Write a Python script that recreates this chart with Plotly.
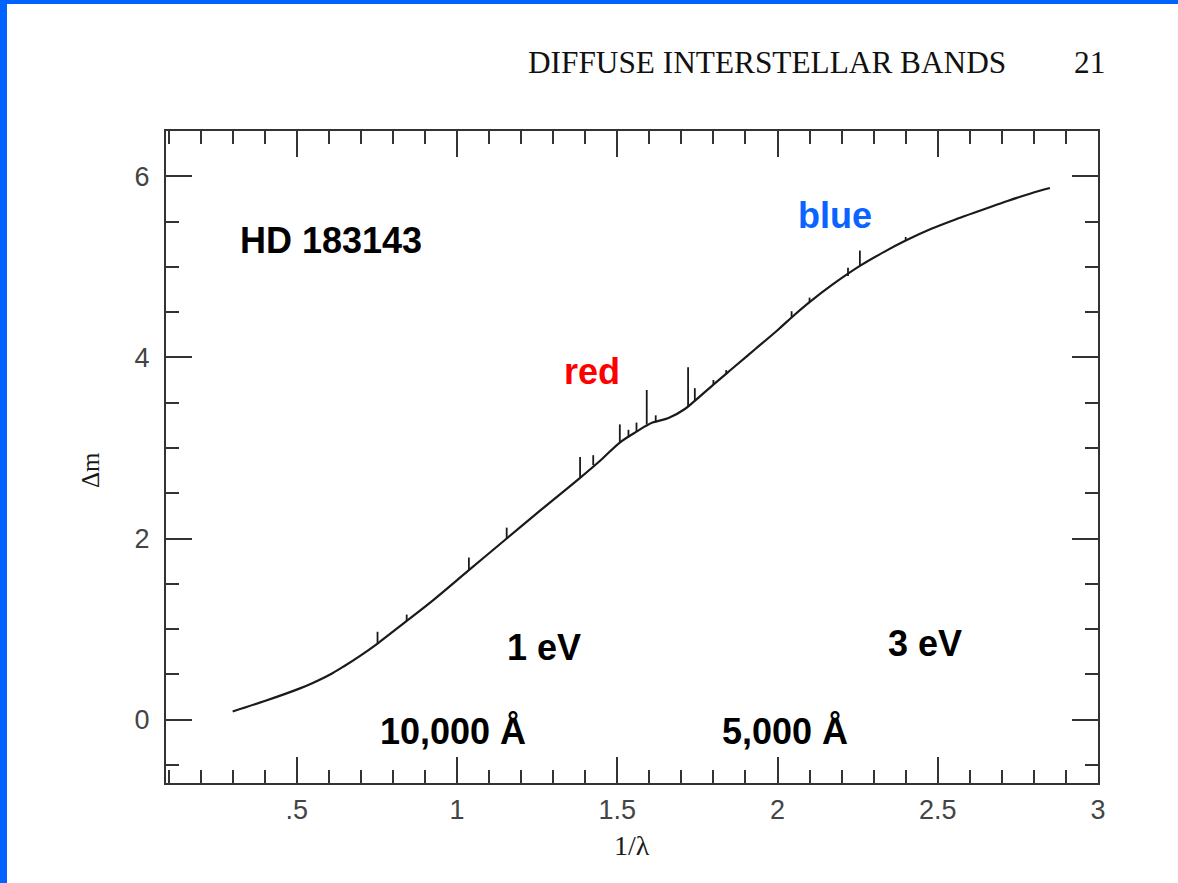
import plotly.graph_objects as go

# Continuum of the extinction curve (1/lambda in um^-1, delta m)
cont_x = [0.30, 0.40, 0.51, 0.55, 0.61, 0.65, 0.70, 0.752, 0.843, 0.926, 1.037, 1.155, 1.26, 1.384,
          1.45, 1.508, 1.56, 1.61, 1.66, 1.711, 1.742, 1.80, 1.86, 1.93, 2.00, 2.05,
          2.10, 2.17, 2.257, 2.33, 2.40, 2.48, 2.56, 2.64, 2.72, 2.79, 2.85]
cont_y = [0.09, 0.205, 0.345, 0.405, 0.51, 0.595, 0.71, 0.84, 1.09, 1.32, 1.65, 2.00, 2.31, 2.67,
          2.87, 3.06, 3.18, 3.28, 3.33, 3.43, 3.52, 3.70, 3.88, 4.09, 4.30, 4.46,
          4.61, 4.80, 5.01, 5.16, 5.29, 5.42, 5.53, 5.63, 5.73, 5.81, 5.87]

# Diffuse interstellar band spikes: position, base, top
dib_x    = [0.752, 0.843, 1.037, 1.155, 1.384, 1.425, 1.508, 1.535, 1.56, 1.592, 1.62,
            1.721, 1.742, 1.80, 1.84, 2.044, 2.10, 2.22, 2.257, 2.40]
dib_base = [0.84, 1.09, 1.65, 2.00, 2.67, 2.81, 3.06, 3.12, 3.18, 3.26, 3.29,
            3.46, 3.52, 3.70, 3.82, 4.44, 4.61, 4.90, 5.01, 5.29]
dib_top  = [0.97, 1.16, 1.79, 2.12, 2.90, 2.92, 3.26, 3.20, 3.28, 3.64, 3.36,
            3.89, 3.66, 3.75, 3.86, 4.51, 4.66, 4.99, 5.18, 5.33]

x_tickvals = [0.5, 1, 1.5, 2, 2.5, 3]
x_ticktext = [".5", "1", "1.5", "2", "2.5", "3"]
y_tickvals = [0, 2, 4, 6]
y_ticktext = ["0", "2", "4", "6"]

spk_x, spk_y = [], []
for xv, b, t in zip(dib_x, dib_base, dib_top):
    spk_x += [xv, xv, None]
    spk_y += [b, t, None]

fig = go.Figure()
fig.add_trace(go.Scatter(x=cont_x, y=cont_y, mode="lines",
                         line=dict(color="#1a1a1a", width=2.2, shape="spline", smoothing=1.0),
                         hoverinfo="skip", showlegend=False))
fig.add_trace(go.Scatter(x=spk_x, y=spk_y, mode="lines",
                         line=dict(color="#1a1a1a", width=1.8),
                         hoverinfo="skip", showlegend=False))

L, R, T, B = 166, 80, 131, 100
W, H = 1178, 883
pw, ph = W - L - R, H - T - B

tickfont = dict(family="Arial, Liberation Sans", size=27, color="#444444")
axis_common = dict(showline=True, linecolor="#333333", linewidth=2, mirror="allticks",
                   ticks="inside", tickcolor="#333333", tickwidth=2, showgrid=False,
                   zeroline=False, tickfont=tickfont)

fig.update_xaxes(range=[0.092, 3.0], tickmode="array", tickvals=x_tickvals, ticktext=x_ticktext,
                 ticklen=26, ticklabelstandoff=2,
                 minor=dict(tickmode="linear", tick0=0, dtick=0.1, ticklen=13, tickwidth=2,
                            tickcolor="#333333", ticks="inside"),
                 **axis_common)
fig.update_yaxes(range=[-0.7, 6.5], tickmode="array", tickvals=y_tickvals, ticktext=y_ticktext,
                 ticklen=26, ticklabelstandoff=9,
                 minor=dict(tickmode="linear", tick0=0, dtick=0.5, ticklen=13, tickwidth=2,
                            tickcolor="#333333", ticks="inside"),
                 **axis_common)

def px2paper_x(px):
    return (px - L) / pw

def px2paper_y(py):
    return (H - B - py) / ph

bold = dict(family="Liberation Sans, Arial", size=36, color="#000000")
annots = [
    dict(text="<b>HD 183143</b>", x=0.607, y=5.29, font=bold),
    dict(text="<b>blue</b>", x=2.179, y=5.566, font=dict(bold, color="#0a64ff")),
    dict(text="<b>red</b>", x=1.421, y=3.844, font=dict(bold, color="#ff0000")),
    dict(text="<b>1 eV</b>", x=1.271, y=0.798, font=bold),
    dict(text="<b>3 eV</b>", x=2.460, y=0.842, font=bold),
    dict(text="<b>10,000 Å</b>", x=0.9875, y=-0.129, font=bold),
    dict(text="<b>5,000 Å</b>", x=2.023, y=-0.129, font=bold),
]
for a in annots:
    fig.add_annotation(xref="x", yref="y", showarrow=False, xanchor="center", yanchor="middle", **a)

serif = dict(family="Liberation Serif, Times New Roman", color="#1a1a1a")
fig.add_annotation(xref="paper", yref="paper", x=px2paper_x(90), y=px2paper_y(470),
                   text="Δm", textangle=-90, showarrow=False, xanchor="center", yanchor="middle",
                   font=dict(serif, size=25))
fig.add_annotation(xref="paper", yref="paper", x=px2paper_x(632), y=px2paper_y(845),
                   text="1/λ", showarrow=False, xanchor="center", yanchor="middle",
                   font=dict(serif, size=28))
fig.add_annotation(xref="paper", yref="paper", x=px2paper_x(526), y=px2paper_y(62),
                   text="DIFFUSE INTERSTELLAR BANDS", showarrow=False, xanchor="left", yanchor="middle",
                   font=dict(serif, size=31.3, color="#111111"))
fig.add_annotation(xref="paper", yref="paper", x=px2paper_x(1107), y=px2paper_y(62),
                   text="21", showarrow=False, xanchor="right", yanchor="middle",
                   font=dict(serif, size=31.3, color="#111111"))

blue = "#0062ff"
fig.add_shape(type="rect", xref="paper", yref="paper", layer="above",
              x0=px2paper_x(0), x1=px2paper_x(7), y0=px2paper_y(H), y1=px2paper_y(0),
              fillcolor=blue, line=dict(width=0))
fig.add_shape(type="rect", xref="paper", yref="paper", layer="above",
              x0=px2paper_x(0), x1=px2paper_x(W), y0=px2paper_y(4), y1=px2paper_y(0),
              fillcolor=blue, line=dict(width=0))

fig.update_layout(width=W, height=H, margin=dict(l=L, r=R, t=T, b=B),
                  paper_bgcolor="white", plot_bgcolor="white", showlegend=False)

fig.write_html("out.html")
